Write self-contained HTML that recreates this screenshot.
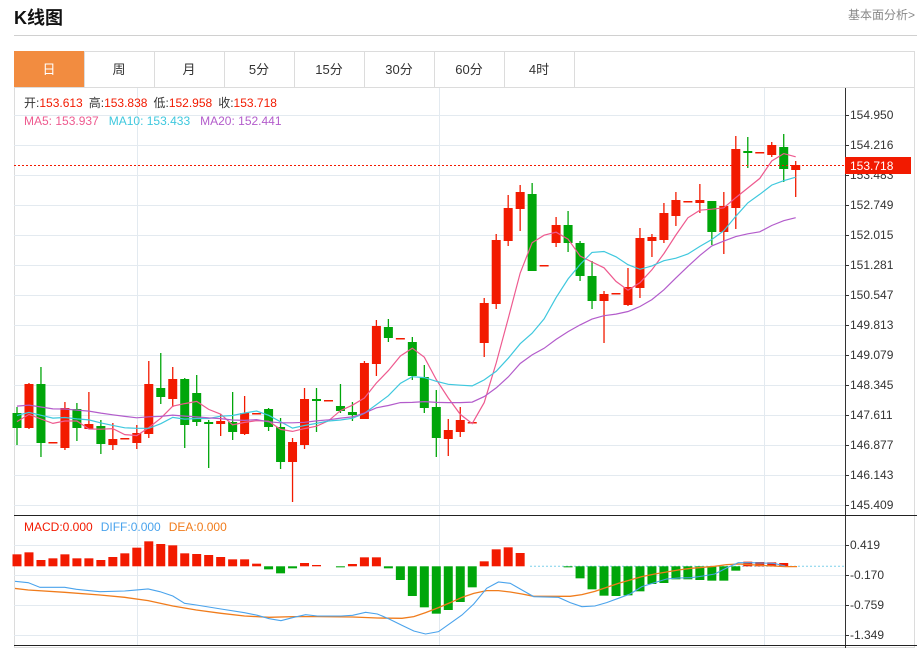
<!DOCTYPE html>
<html><head><meta charset="utf-8">
<style>
body{margin:0;width:917px;height:648px;overflow:hidden;background:#fff;font-family:"Liberation Sans","Noto Sans CJK SC",sans-serif;}
#t{position:absolute;left:14px;top:4px;font-size:18px;font-weight:bold;color:#111;}
#r{position:absolute;right:2px;top:6px;font-size:12px;color:#888;}
</style></head><body>
<div id="t">K线图</div><div id="r">基本面分析&gt;</div>
<svg id="s" width="917" height="648" style="position:absolute;left:0;top:0" font-family="Liberation Sans, Noto Sans CJK SC, sans-serif"></svg>
<script>
const C=[
['G',413,428,407,445],['R',384,428,383,429],['G',384,443,367,457],['R',442,442,442,442],['R',408,448,402,450],
['G',409,428,403,441],['R',424,429,392,429],['G',426,444,420,454],['R',439,445,423,450],['R',438,438,438,438],
['R',433,443,425,449],['R',384,434,361,438],['G',388,397,353,404],['R',379,399,367,407],['G',379,425,378,448],
['G',393,422,375,426],['G',422,424,420,468],['R',421,424,414,436],['G',422,432,392,440],['R',413,434,396,435],
['R',413,413,413,413],['G',409,427,408,431],['G',427,462,418,469],['R',442,462,438,502],['R',399,445,388,449],
['G',399,401,388,432],['R',400,400,400,400],['G',406,411,384,413],['G',412,415,402,421],['R',363,419,361,419],
['R',326,364,320,376],['G',327,338,319,342],['R',338,338,338,338],['G',342,376,337,380],['G',377,408,365,413],
['G',407,438,390,457],['R',430,439,419,456],['R',420,432,407,437],['R',422,422,422,422],['R',303,343,298,357],
['R',240,304,234,309],['R',208,241,195,246],['R',192,209,185,231],['G',194,271,183,271],['R',265,265,265,265],
['R',225,243,217,247],['G',225,243,211,252],['G',243,276,241,281],['G',276,301,261,309],['R',294,301,291,343],
['R',293,293,293,293],['R',287,305,268,306],['R',238,288,228,298],['R',237,241,234,257],['R',213,240,203,243],
['R',200,216,192,226],['R',201,201,201,201],['R',200,203,184,213],['G',201,232,201,245],['R',206,232,192,254],
['R',149,208,136,229],['G',151,153,137,168],['R',152,152,152,152],['R',145,155,142,157],['G',147,169,134,182],
['R',165,170,161,197]];
const H=[133,127,150,145,133,145,145,150,141,130,113,94,102,106,130,132,135,141,148,148,161,178,190,175,159,165,168,172,162,142,142,175,210,258,292,311,300,276,232,154,118,112,129,169,169,169,172,205,238,257,258,256,244,222,219,208,208,210,212,212,182,155,156,157,159,168];
const DIFF="0,213 20,213 48,218 68,232 110,232 130,238 170,245 212,243 252,237 272,245 294,258 314,280 334,285 376,297 416,308 438,316 458,326 478,332 500,322 520,314 540,318 580,318 600,316 622,307 642,312 662,327 684,346 704,363 724,372 746,365 766,340 786,315 806,282 828,235 848,216 868,220 888,240 908,260 950,262 970,278 990,290 1012,288 1032,278 1052,265 1072,252 1092,230 1114,218 1134,207 1154,204 1176,203 1196,198 1216,192 1236,174 1256,158 1276,158 1316,160 1336,168";
const DEA="0,230 48,240 110,247 170,255 212,262 252,272 294,288 334,300 376,310 416,318 458,322 500,320 540,320 600,321 642,324 684,325 704,320 724,308 746,293 766,278 786,262 806,250 828,242 848,242 868,246 888,252 908,259 970,259 990,254 1012,244 1032,232 1052,220 1072,210 1092,200 1114,192 1134,186 1154,180 1176,175 1196,172 1216,169 1236,164 1256,162 1296,166 1336,170 1356,170";
let o='<defs><clipPath id="cp"><rect x="15" y="516" width="830" height="129"/></clipPath></defs>';
const RED='#f21a00',GRN='#00a60a';
o+=`<line x1="14" y1="35.5" x2="917" y2="35.5" stroke="#d0d0d0"/>`;
o+=`<rect x="14.5" y="51.5" width="900" height="596" fill="none" stroke="#dcdcdc"/>`;
o+=`<line x1="14" y1="87.5" x2="914" y2="87.5" stroke="#dcdcdc"/>`;
const tabs=['日','周','月','5分','15分','30分','60分','4时'];
tabs.forEach((t,i)=>{const x=14+70*i;
 if(i==0)o+=`<rect x="14" y="51" width="70" height="36" fill="#f28c40"/>`;
 o+=`<line x1="${x+70.5}" y1="51" x2="${x+70.5}" y2="87" stroke="#dcdcdc"/>`;
 o+=`<text x="${x+35}" y="74" font-size="13" text-anchor="middle" fill="${i==0?'#fff':'#333'}">${t}</text>`;});
for(let k=0;k<14;k++){const y=115+30*k;o+=`<line x1="14" y1="${y+.5}" x2="845" y2="${y+.5}" stroke="#e3eaf0"/>`;}
[545,575,605,635].forEach(y=>o+=`<line x1="14" y1="${y+.5}" x2="845" y2="${y+.5}" stroke="#e3eaf0"/>`);
[137,439,764].forEach(x=>o+=`<line x1="${x+.5}" y1="88" x2="${x+.5}" y2="645" stroke="#e3eaf0"/>`);
o+=`<line x1="845.5" y1="88" x2="845.5" y2="648" stroke="#333"/>`;
o+=`<line x1="14" y1="515.5" x2="917" y2="515.5" stroke="#222"/>`;
o+=`<line x1="14" y1="645.5" x2="917" y2="645.5" stroke="#222"/>`;
const labs=['154.950','154.216','153.483','152.749','152.015','151.281','150.547','149.813','149.079','148.345','147.611','146.877','146.143','145.409'];
labs.forEach((l,k)=>{const y=115+30*k;o+=`<line x1="845" y1="${y+.5}" x2="849" y2="${y+.5}" stroke="#333"/><text x="850" y="${y+4}" font-size="12" fill="#333">${l}</text>`;});
[['0.419',545],['-0.170',575],['-0.759',605],['-1.349',635]].forEach(([l,y])=>o+=`<line x1="845" y1="${y+.5}" x2="849" y2="${y+.5}" stroke="#333"/><text x="850" y="${y+4}" font-size="12" fill="#333">${l}</text>`);
const xs=i=>17+11.98*i;
C.forEach((c,i)=>{const x=xs(i),col=c[0]=='R'?RED:GRN;
 o+=`<line x1="${x}" y1="${c[3]}" x2="${x}" y2="${c[4]}" stroke="${col}" stroke-width="1.3"/>`;
 const h=Math.max(c[2]-c[1],1.5);o+=`<rect x="${x-4.5}" y="${c[1]}" width="9" height="${h}" fill="${col}"/>`;});
const cl=C.map(c=>c[0]=='R'?c[1]:c[2]);
function ma(n,pad){const a=[];for(let i=0;i<cl.length;i++){let s=0;for(let j=i-n+1;j<=i;j++)s+=j<0?pad:cl[j];a.push(s/n);}return a;}
[[5,420,'#ee5a8f'],[10,414,'#3fc8de'],[20,405,'#b35ccb']].forEach(([n,p,col])=>{
 const a=ma(n,p);o+=`<polyline fill="none" stroke="${col}" stroke-width="1.2" points="${a.map((v,i)=>xs(i).toFixed(1)+','+v.toFixed(1)).join(' ')}"/>`;});
o+=`<line x1="14" y1="165.5" x2="845" y2="165.5" stroke="${RED}" stroke-dasharray="2,2"/>`;
o+=`<rect x="845" y="157" width="66" height="17" fill="${RED}"/><text x="850" y="170" font-size="12" fill="#fff">153.718</text>`;
o+=`<text x="24" y="107" font-size="12"><tspan fill="#333">开:</tspan><tspan fill="${RED}">153.613</tspan><tspan fill="#333" dx="6">高:</tspan><tspan fill="${RED}">153.838</tspan><tspan fill="#333" dx="6">低:</tspan><tspan fill="${RED}">152.958</tspan><tspan fill="#333" dx="6">收:</tspan><tspan fill="${RED}">153.718</tspan></text>`;
o+=`<text x="24" y="125" font-size="12"><tspan fill="#ee5a8f">MA5: 153.937</tspan><tspan fill="#3fc8de" dx="10">MA10: 153.433</tspan><tspan fill="#b35ccb" dx="10">MA20: 152.441</tspan></text>`;
o+=`<text x="24" y="531" font-size="12"><tspan fill="${RED}">MACD:0.000</tspan><tspan fill="#4aa3ec" dx="8">DIFF:0.000</tspan><tspan fill="#f07c1c" dx="8">DEA:0.000</tspan></text>`;
const base=566.3;
o+=`<line x1="530" y1="${base}" x2="845" y2="${base}" stroke="#7fd0ea" stroke-dasharray="2,2"/>`;
H.forEach((h,i)=>{const y=510+h/3,x=xs(i);if(Math.abs(y-base)<0.8)return;
 const col=y<base?RED:GRN;o+=`<rect x="${x-4.5}" y="${Math.min(y,base)}" width="9" height="${Math.abs(y-base)}" fill="${col}"/>`;});
o+=`<g clip-path="url(#cp)"><g transform="translate(0,510) scale(0.5878,0.3333)"><polyline fill="none" stroke="#f07c1c" stroke-width="1.3" vector-effect="non-scaling-stroke" points="${DEA}"/><polyline fill="none" stroke="#4aa3ec" stroke-width="1.1" vector-effect="non-scaling-stroke" points="${DIFF}"/></g></g>`;
document.getElementById('s').innerHTML=o;
</script>
</body></html>
